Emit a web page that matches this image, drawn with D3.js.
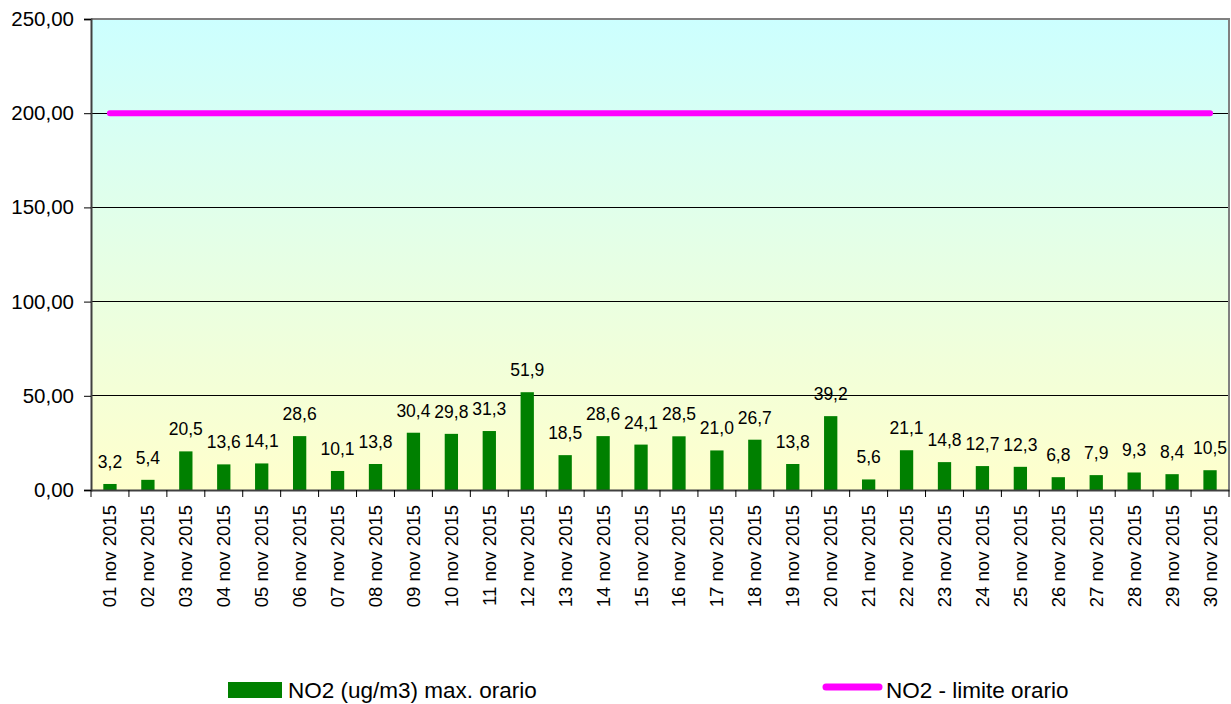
<!DOCTYPE html>
<html>
<head>
<meta charset="utf-8">
<script src="https://cdn.jsdelivr.net/npm/d3@7/dist/d3.min.js"></script>
<style>
  html, body { margin: 0; padding: 0; background: #fff; }
  svg { display: block; font-family: Arial, "Liberation Sans", sans-serif; }
</style>
</head>
<body>
<svg id="chart" width="1231" height="704"></svg>
<script>
const categories = ["01 nov 2015","02 nov 2015","03 nov 2015","04 nov 2015","05 nov 2015","06 nov 2015","07 nov 2015","08 nov 2015","09 nov 2015","10 nov 2015","11 nov 2015","12 nov 2015","13 nov 2015","14 nov 2015","15 nov 2015","16 nov 2015","17 nov 2015","18 nov 2015","19 nov 2015","20 nov 2015","21 nov 2015","22 nov 2015","23 nov 2015","24 nov 2015","25 nov 2015","26 nov 2015","27 nov 2015","28 nov 2015","29 nov 2015","30 nov 2015"];
const no2Max = [3.2,5.4,20.5,13.6,14.1,28.6,10.1,13.8,30.4,29.8,31.3,51.9,18.5,28.6,24.1,28.5,21.0,26.7,13.8,39.2,5.6,21.1,14.8,12.7,12.3,6.8,7.9,9.3,8.4,10.5];
const no2Limit = categories.map(() => 200);
const yTicks = [0,50,100,150,200,250];
const seriesNames = ["NO2 (ug/m3) max. orario", "NO2 - limite orario"];

const svg = d3.select("#chart");
const L = 91, R = 1229, T = 19, B = 490;

const x = d3.scaleBand().domain(categories).range([L, R]).padding(0);
const y = d3.scaleLinear().domain([0, 250]).range([B, T]);
const fmt2 = d => d.toFixed(2).replace(".", ",");
const fmt1 = d => d.toFixed(1).replace(".", ",");

const defs = svg.append("defs");
const grad = defs.append("linearGradient").attr("id", "bg").attr("x1", 0).attr("y1", 0).attr("x2", 0).attr("y2", 1);
grad.append("stop").attr("offset", "0%").attr("stop-color", "#CCFFFF");
grad.append("stop").attr("offset", "100%").attr("stop-color", "#FFFFCC");

svg.append("rect").attr("x", L).attr("y", T).attr("width", R - L).attr("height", B - T).attr("fill", "url(#bg)");

// gridlines
svg.append("g").selectAll("line").data(yTicks.filter(d => d > 0 && d < 250)).join("line")
  .attr("x1", L).attr("x2", R).attr("y1", d => y(d)).attr("y2", d => y(d))
  .attr("stroke", "#000").attr("stroke-width", 1).attr("shape-rendering", "crispEdges");

// border top & right
svg.append("path").attr("d", `M${L},${T}H${R}V${B}`).attr("fill", "none").attr("stroke", "#808080").attr("stroke-width", 2);

// bars
const bw = 13.3;
svg.append("g").selectAll("rect").data(no2Max).join("rect")
  .attr("x", (d, i) => x(categories[i]) + x.bandwidth() / 2 - bw / 2)
  .attr("width", bw)
  .attr("y", d => y(d))
  .attr("height", d => B - y(d))
  .attr("fill", "#008000");

// data labels
svg.append("g").selectAll("text").data(no2Max).join("text")
  .attr("x", (d, i) => x(categories[i]) + x.bandwidth() / 2)
  .attr("y", d => y(d) - 16)
  .attr("text-anchor", "middle")
  .attr("font-size", 17.5)
  .attr("fill", "#000")
  .text(d => fmt1(d));

// limit line
const line = d3.line().x((d, i) => x(categories[i]) + x.bandwidth() / 2).y(d => y(d));
svg.append("path").datum(no2Limit).attr("d", line)
  .attr("fill", "none").attr("stroke", "#FF00FF").attr("stroke-width", 6).attr("stroke-linecap", "round");

// y axis
const yAxis = d3.axisLeft(y).tickValues(yTicks).tickFormat(fmt2).tickSize(7).tickPadding(10);
const gy = svg.append("g").attr("transform", `translate(${L},0)`).call(yAxis);
gy.select(".domain").attr("stroke", "#404040").attr("stroke-width", 2);
gy.selectAll(".tick line").attr("stroke", "#000");
gy.selectAll(".tick text").attr("font-size", 20.5).attr("fill", "#000").attr("font-family", "Arial, 'Liberation Sans', sans-serif");

// x axis
const xAxis = d3.axisBottom(x).tickSize(0).tickFormat(d => d);
const gx = svg.append("g").attr("transform", `translate(0,${B})`).call(xAxis);
gx.select(".domain").attr("stroke", "#404040").attr("stroke-width", 2);
gx.selectAll(".tick text")
  .attr("font-size", 18.6).attr("fill", "#000").attr("font-family", "Arial, 'Liberation Sans', sans-serif")
  .attr("transform", "rotate(-90)")
  .attr("text-anchor", "end")
  .attr("x", -15).attr("y", 0).attr("dy", "0.35em");
// category boundary ticks
svg.append("g").selectAll("line").data(categories.concat(["_end"])).join("line")
  .attr("x1", (d, i) => L + i * x.bandwidth()).attr("x2", (d, i) => L + i * x.bandwidth())
  .attr("y1", B).attr("y2", B + 7)
  .attr("stroke", "#000").attr("stroke-width", 1);

// legend
const lg = svg.append("g");
lg.append("rect").attr("x", 228).attr("y", 682).attr("width", 54).attr("height", 16).attr("fill", "#008000");
lg.append("text").attr("x", 288).attr("y", 698).attr("font-size", 22.5).attr("fill", "#000").text(seriesNames[0]);
lg.append("line").attr("x1", 826).attr("x2", 879).attr("y1", 687).attr("y2", 687)
  .attr("stroke", "#FF00FF").attr("stroke-width", 7).attr("stroke-linecap", "round");
lg.append("text").attr("x", 886).attr("y", 698).attr("font-size", 22.5).attr("fill", "#000").text(seriesNames[1]);
</script>
</body>
</html>
